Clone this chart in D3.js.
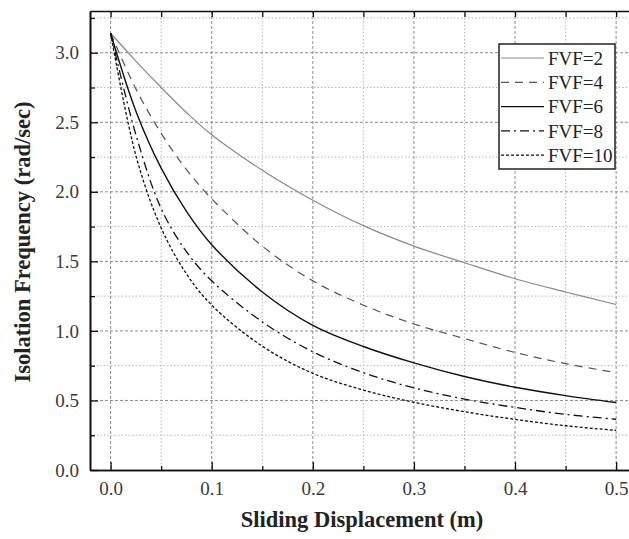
<!DOCTYPE html>
<html>
<head>
<meta charset="utf-8">
<script src="https://cdn.jsdelivr.net/npm/d3@7"></script>
<style>
  html, body { margin: 0; padding: 0; background: #fff; }
  svg { display: block; }
</style>
</head>
<body>
<svg id="chart" width="629" height="539"></svg>
<script>
// ---- data ----
const displacement = [0, 0.025, 0.05, 0.075, 0.1, 0.15, 0.2, 0.25, 0.3, 0.35, 0.4, 0.45, 0.5];
const fvf2  = [3.14, 2.94, 2.75, 2.57, 2.41, 2.155, 1.94, 1.757, 1.61, 1.49, 1.375, 1.28, 1.19];
const fvf4  = [3.14, 2.74, 2.42, 2.16, 1.95, 1.61, 1.36, 1.185, 1.05, 0.945, 0.845, 0.765, 0.70];
const fvf6  = [3.14, 2.58, 2.17, 1.86, 1.62, 1.28, 1.04, 0.888, 0.77, 0.672, 0.595, 0.535, 0.485];
const fvf8  = [3.14, 2.41, 1.88, 1.57, 1.36, 1.065, 0.85, 0.70, 0.59, 0.51, 0.45, 0.40, 0.365];
const fvf10 = [3.14, 2.26, 1.74, 1.41, 1.185, 0.89, 0.695, 0.575, 0.487, 0.419, 0.364, 0.318, 0.285];
const seriesNames = ["FVF=2", "FVF=4", "FVF=6", "FVF=8", "FVF=10"];
const xTicks = [0, 0.1, 0.2, 0.3, 0.4, 0.5];
const yTicks = [0, 0.5, 1.0, 1.5, 2.0, 2.5, 3.0];
const xLabel = "Sliding Displacement (m)";
const yLabel = "Isolation Frequency (rad/sec)";

const seriesValues = [fvf2, fvf4, fvf6, fvf8, fvf10];
const styles = [
  { stroke: "#8a8a8a", width: 1.2, dash: null },
  { stroke: "#555", width: 1.2, dash: "8,6" },
  { stroke: "#111", width: 1.4, dash: null },
  { stroke: "#111", width: 1.3, dash: "9,4,2,4" },
  { stroke: "#111", width: 1.3, dash: "3,2" }
];

// ---- layout ----
const svg = d3.select("#chart");
const pLeft = 90, pTop = 11, pBottom = 470, pRight = 640;
const x = d3.scaleLinear().domain([-0.0204, 0.5236]).range([pLeft, pRight]);
const y = d3.scaleLinear().domain([0, 3.3]).range([pBottom, pTop]);

const minorX = d3.range(0, 0.5001, 0.05).map(v => +v.toFixed(3));
const minorY = d3.range(0, 3.2501, 0.25).map(v => +v.toFixed(3));
const isMajorX = v => Math.abs(v * 10 - Math.round(v * 10)) < 1e-6;
const isMajorY = v => Math.abs(v * 2 - Math.round(v * 2)) < 1e-6;
const serif = "'Liberation Serif', 'Times New Roman', serif";

// grid
const g = svg.append("g");
g.selectAll("line.gx").data(minorX).enter().append("line")
  .attr("x1", d => x(d)).attr("x2", d => x(d))
  .attr("y1", pTop).attr("y2", pBottom)
  .attr("stroke", d => isMajorX(d) ? "#8c8c8c" : "#b8b8b8")
  .attr("stroke-width", 1)
  .attr("stroke-dasharray", d => isMajorX(d) ? "3,2" : "1.5,2");
g.selectAll("line.gy").data(minorY.filter(d => d > 0)).enter().append("line")
  .attr("y1", d => y(d)).attr("y2", d => y(d))
  .attr("x1", pLeft).attr("x2", pRight)
  .attr("stroke", d => isMajorY(d) ? "#8c8c8c" : "#b8b8b8")
  .attr("stroke-width", 1)
  .attr("stroke-dasharray", d => isMajorY(d) ? "3,2" : "1.5,2");

// curves
const line = d3.line()
  .x((d, i) => x(displacement[i]))
  .y(d => y(d))
  .curve(d3.curveCatmullRom.alpha(0.5));
seriesValues.forEach((vals, i) => {
  svg.append("path")
    .attr("d", line(vals))
    .attr("fill", "none")
    .attr("stroke", styles[i].stroke)
    .attr("stroke-width", styles[i].width)
    .attr("stroke-dasharray", styles[i].dash);
});

// axes
const xAxis = svg.append("g").attr("transform", `translate(0,${pBottom})`)
  .call(d3.axisBottom(x).tickValues(xTicks).tickFormat(d3.format(".1f")).tickSizeInner(-8).tickSizeOuter(0).tickPadding(12));
const xAxisMinor = svg.append("g").attr("transform", `translate(0,${pBottom})`)
  .call(d3.axisBottom(x).tickValues(minorX.filter(d => !isMajorX(d))).tickFormat("").tickSizeInner(-4).tickSizeOuter(0));
const xTop = svg.append("g").attr("transform", `translate(0,${pTop})`)
  .call(d3.axisTop(x).tickValues(minorX).tickFormat("").tickSizeInner(-6).tickSizeOuter(0));
const yAxis = svg.append("g").attr("transform", `translate(${pLeft},0)`)
  .call(d3.axisLeft(y).tickValues(yTicks).tickFormat(d3.format(".1f")).tickSizeInner(-8).tickSizeOuter(0).tickPadding(11));
const yAxisMinor = svg.append("g").attr("transform", `translate(${pLeft},0)`)
  .call(d3.axisLeft(y).tickValues(minorY.filter(d => !isMajorY(d))).tickFormat("").tickSizeInner(-5).tickSizeOuter(0));

[xAxis, xAxisMinor, xTop, yAxis, yAxisMinor].forEach(a => {
  a.select(".domain").attr("stroke", "#111").attr("stroke-width", 1.6);
  a.selectAll(".tick line").attr("stroke", "#111").attr("stroke-width", 1.3);
  a.selectAll("text").attr("font-family", serif)
    .attr("font-size", 19).attr("fill", "#3a3a3a");
});

// axis titles
svg.append("text")
  .attr("x", 362).attr("y", 527)
  .attr("text-anchor", "middle")
  .attr("font-family", serif)
  .attr("font-weight", "bold").attr("font-size", 22.5).attr("fill", "#222")
  .text(xLabel);
svg.append("text")
  .attr("transform", `translate(30,242) rotate(-90)`)
  .attr("text-anchor", "middle")
  .attr("font-family", serif)
  .attr("font-weight", "bold").attr("font-size", 22.5).attr("fill", "#222")
  .text(yLabel);

// legend
const lg = svg.append("g").attr("transform", "translate(499,44)");
lg.append("rect").attr("x", 0).attr("y", 0).attr("width", 116).attr("height", 125)
  .attr("fill", "#fff").attr("stroke", "#222").attr("stroke-width", 1.5);
seriesNames.forEach((name, i) => {
  const yy = 14 + i * 24.3;
  lg.append("line").attr("x1", 2).attr("x2", 45).attr("y1", yy).attr("y2", yy)
    .attr("stroke", styles[i].stroke).attr("stroke-width", styles[i].width)
    .attr("stroke-dasharray", styles[i].dash);
  lg.append("text").attr("x", 49).attr("y", yy).attr("dy", "0.35em")
    .attr("font-family", serif)
    .attr("font-size", 19).attr("fill", "#222").text(name);
});
</script>
</body>
</html>
